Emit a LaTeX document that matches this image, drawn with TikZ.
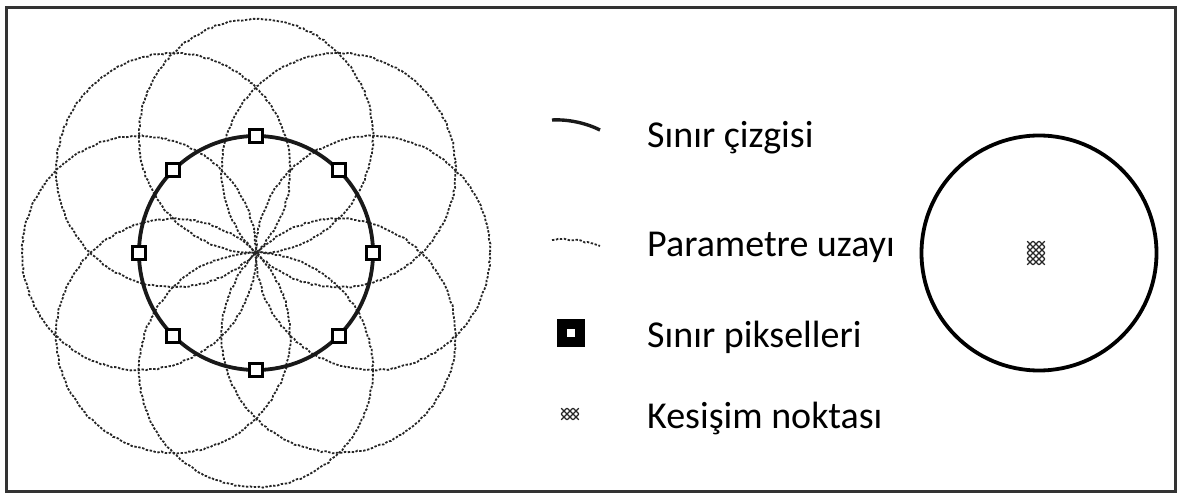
\documentclass[tikz,border=0pt]{standalone}
\usepackage{fontspec}
\setmainfont{Carlito}
\usetikzlibrary{calc,decorations.pathmorphing}
\begin{document}
\begin{tikzpicture}[x=1pt,y=-1pt,
  frame/.style={line width=3pt,black!80},
  param/.style={black!85,line width=1.8pt,dash pattern=on 2.4pt off 1.6pt,
    decorate,decoration={random steps,segment length=3pt,amplitude=0.8pt}},
  bound/.style={line width=3.8pt,black!90},
  bpix/.style={draw=black,line width=3pt,fill=white,minimum size=13pt,inner sep=0pt},
  legtext/.style={anchor=base west,font=\fontsize{38}{42}\selectfont,inner sep=0pt},
  hatch/.style={black!85,line width=1.1pt},
]
\useasboundingbox (0,0) rectangle (1178,494);
\draw[frame] (6,8) rectangle (1175,491);

% left figure
\coordinate (c) at (256,253);
\foreach \i/\a in {1/90,2/45,3/0,4/-45,5/-90,6/-135,7/180,8/135}{
  \coordinate (p\i) at ($(c)+(\a:117 and -117)$);
}
\foreach \i in {1,...,8}{
  \draw[param] (p\i) circle (117);
}
\draw[bound] (c) circle (117);
\foreach \i in {1,...,8}{
  \node[bpix] (b\i) at (p\i) {};
}

% legend
\draw[bound,line width=3.4pt] (552,120) .. controls (570,119) and (588,124) .. (600,130);
\node[legtext] (t1) at (647,148) {Sınır çizgisi};
\draw[param] (552,240) .. controls (568,238) and (586,241) .. (600,246);
\node[legtext] (t2) at (647,257) {Parametre uzayı};
\node[fill=black,minimum size=28pt,inner sep=0pt] (s3) at (571,333) {};
\node[fill=white,minimum size=8pt,inner sep=0pt] (s3i) at (s3) {};
\node[legtext] (t3) at (647,348) {Sınır pikselleri};
\node[inner sep=0pt,minimum width=20pt,minimum height=12pt] (h4) at (570,414) {};
\foreach \dx in {-6,0,6}{\foreach \dy in {-3,3}{
  \draw[hatch] ($(h4)+(\dx-2.8,\dy-2.8)$) -- ++(5.6,5.6) ($(h4)+(\dx-2.8,\dy+2.8)$) -- ++(5.6,-5.6);
}}
\node[legtext] (t4) at (647,428) {Kesişim noktası};

% right figure
\node[draw,circle,line width=3.8pt,minimum size=235pt,inner sep=0pt] (rc) at (1039,253) {};
\node[inner sep=0pt,minimum width=22pt,minimum height=25pt] (rk) at (1036,253) {};
\foreach \dx in {-6,0,6}{\foreach \dy in {-9,-3,3,9}{
  \draw[hatch] ($(rk)+(\dx-2.8,\dy-2.8)$) -- ++(5.6,5.6) ($(rk)+(\dx-2.8,\dy+2.8)$) -- ++(5.6,-5.6);
}}
\end{tikzpicture}
\end{document}
